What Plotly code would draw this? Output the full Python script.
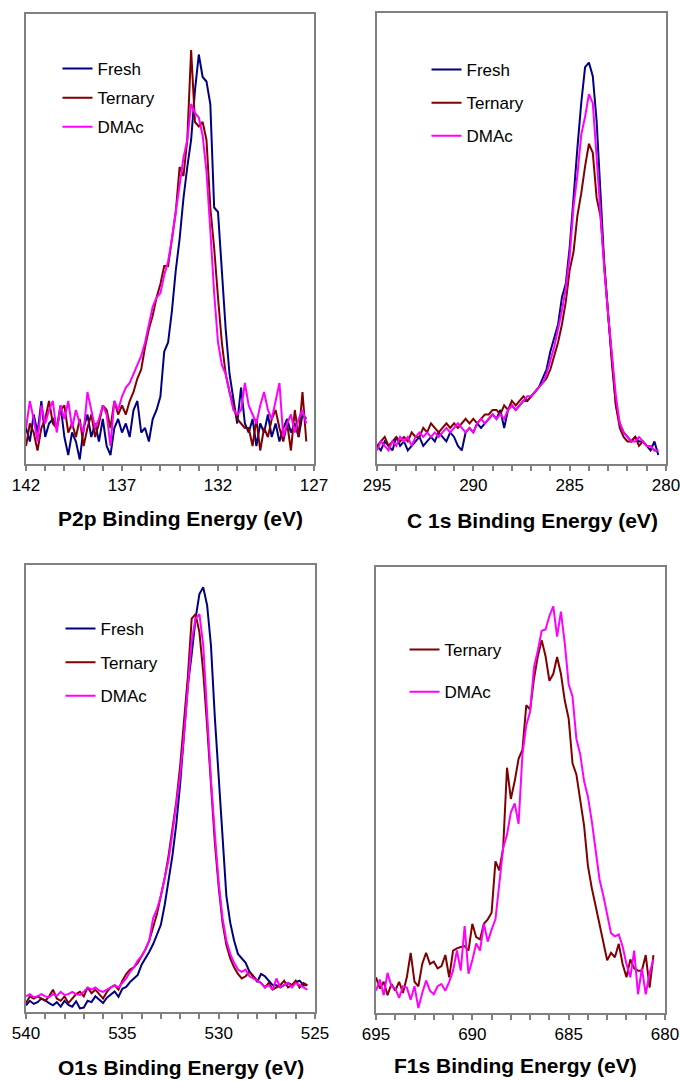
import plotly.graph_objects as go

# ---------------- P2p ----------------
P2P_ENERGY = [142.0, 141.8, 141.6, 141.4, 141.2, 141.0, 140.8, 140.6, 140.4, 140.2,
              140.0, 139.8, 139.6, 139.4, 139.2, 139.0, 138.8, 138.6, 138.4, 138.2,
              138.0, 137.8, 137.6, 137.4, 137.2, 137.0, 136.8, 136.6, 136.4, 136.2,
              136.0, 135.8, 135.6, 135.4, 135.2, 135.0, 134.8, 134.6, 134.4, 134.2,
              134.0, 133.8, 133.6, 133.4, 133.2, 133.0, 132.8, 132.6, 132.4, 132.2,
              132.0, 131.8, 131.6, 131.4, 131.2, 131.0, 130.8, 130.6, 130.4, 130.2,
              130.0, 129.8, 129.6, 129.4, 129.2, 129.0, 128.8, 128.6, 128.4, 128.2,
              128.0, 127.8, 127.6, 127.4]
P2P_FRESH = [8, 5, 11, 7, 14, 6, 9, 10, 8, 13,
             6, 2, 7, 5, 1, 8, 11, 6, 9, 5,
             10, 4, 2, 8, 10, 7, 9, 6, 12, 14,
             7, 8, 5, 10, 12, 15, 25, 27, 34, 43,
             50, 59, 66, 72, 83, 91, 86, 85, 80, 57,
             56, 42, 30, 20, 14, 9, 17, 9, 7, 10,
             4, 9, 7, 11, 6, 9, 5, 8, 10, 7,
             9, 6, 11, 10]
P2P_TERNARY = [4, 9, 7, 3, 8, 10, 14, 9, 8, 12,
               13, 7, 9, 6, 10, 4, 8, 11, 6, 9,
               13, 12, 8, 14, 11, 13, 11, 14, 16, 19,
               21, 26, 30, 33, 37, 40, 44, 44, 50, 56,
               66, 64, 72, 92, 76, 75, 76, 72, 57, 48,
               37, 27, 20, 16, 13, 10, 9, 8, 8, 4,
               10, 3, 8, 6, 10, 12, 8, 5, 9, 3,
               12, 6, 16, 5]
P2P_DMAC = [8, 14, 10, 5, 13, 9, 12, 14, 7, 13,
            10, 14, 8, 12, 9, 7, 16, 12, 8, 10,
            13, 11, 4, 14, 12, 15, 17, 18, 20, 22,
            24, 27, 31, 35, 37, 38, 42, 45, 50, 56,
            61, 68, 72, 80, 78, 77, 73, 65, 52, 38,
            27, 22, 20, 16, 12, 11, 12, 18, 13, 11,
            9, 13, 16, 12, 10, 14, 18, 6, 9, 11,
            7, 10, 12, 9]

# ---------------- C 1s ----------------
C1S_ENERGY = [295.0, 294.8, 294.6, 294.4, 294.2, 294.0, 293.8, 293.6, 293.4, 293.2,
              293.0, 292.8, 292.6, 292.4, 292.2, 292.0, 291.8, 291.6, 291.4, 291.2,
              291.0, 290.8, 290.6, 290.4, 290.2, 290.0, 289.8, 289.6, 289.4, 289.2,
              289.0, 288.8, 288.6, 288.4, 288.2, 288.0, 287.8, 287.6, 287.4, 287.2,
              287.0, 286.8, 286.6, 286.4, 286.2, 286.0, 285.8, 285.6, 285.4, 285.2,
              285.0, 284.8, 284.6, 284.4, 284.2, 284.0, 283.8, 283.6, 283.4, 283.2,
              283.0, 282.8, 282.6, 282.4, 282.2, 282.0, 281.8, 281.6, 281.4, 281.2,
              281.0, 280.8, 280.6, 280.4]
C1S_FRESH = [4, 3, 5, 4, 3, 6, 4, 5, 3, 4,
             5, 6, 4, 5, 6, 5, 7, 6, 5, 7,
             6, 4, 3, 7, 8, 7, 9, 8, 9, 10,
             11, 10, 12, 8, 12, 13, 12, 13, 14, 14,
             15, 16, 17, 19, 21, 25, 28, 31, 37, 40,
             48, 60, 70, 80, 88, 89, 86, 76, 60, 44,
             33, 22, 13, 9, 7, 6, 5, 6, 5, 5,
             4, 3, 5, 2]
C1S_TERNARY = [4, 5, 6, 4, 5, 6, 5, 6, 5, 7,
               6, 6, 8, 7, 9, 8, 7, 8, 9, 8,
               9, 8, 9, 10, 9, 10, 9, 10, 11, 11,
               12, 12, 11, 13, 12, 14, 13, 14, 15, 14,
               15, 16, 17, 18, 19, 21, 24, 27, 31, 36,
               43, 47, 55, 60, 66, 71, 69, 59, 55, 43,
               33, 22, 13, 8, 6, 5, 5, 6, 4, 5,
               4, 4, 3, 3]
C1S_DMAC = [3, 5, 4, 3, 5, 4, 6, 5, 6, 4,
            6, 7, 6, 7, 6, 7, 6, 7, 8, 7,
            8, 9, 8, 7, 8, 7, 9, 10, 9, 10,
            11, 10, 11, 10, 12, 13, 12, 13, 14, 15,
            15, 16, 17, 18, 20, 23, 26, 30, 34, 39,
            46, 57, 64, 73, 77, 82, 80, 68, 55, 43,
            33, 24, 15, 9, 7, 6, 5, 5, 6, 5,
            4, 4, 3, 3]

# ---------------- O1s ----------------
O1S_ENERGY = [540.0, 539.8, 539.6, 539.4, 539.2, 539.0, 538.8, 538.6, 538.4, 538.2,
              538.0, 537.8, 537.6, 537.4, 537.2, 537.0, 536.8, 536.6, 536.4, 536.2,
              536.0, 535.8, 535.6, 535.4, 535.2, 535.0, 534.8, 534.6, 534.4, 534.2,
              534.0, 533.8, 533.6, 533.4, 533.2, 533.0, 532.8, 532.6, 532.4, 532.2,
              532.0, 531.8, 531.6, 531.4, 531.2, 531.0, 530.8, 530.6, 530.4, 530.2,
              530.0, 529.8, 529.6, 529.4, 529.2, 529.0, 528.8, 528.6, 528.4, 528.2,
              528.0, 527.8, 527.6, 527.4, 527.2, 527.0, 526.8, 526.6, 526.4, 526.2,
              526.0, 525.8, 525.6, 525.4]
O1S_FRESH = [1.5, 2.5, 1.8, 2.2, 3.0, 2.6, 2.0, 1.5, 2.2, 1.2,
             2.5, 1.6, 1.2, 2.4, 0.8, 1.0, 2.5, 2.2, 3.5, 2.8,
             2.0, 3.2, 4.0, 4.6, 3.4, 5.2, 5.6, 6.7, 7.5, 8.3,
             10.6, 12.0, 13.5, 15.2, 17.5, 19.5, 24, 29, 35, 42,
             51, 62, 73, 80, 88, 93.5, 95, 91, 82, 66,
             52, 38, 26, 20, 16, 13, 12, 11, 9, 8,
             6.7, 8.5, 8, 7, 6, 6, 5.5, 6, 6.5, 6,
             6.7, 7, 6, 6]
O1S_TERNARY = [2, 3.5, 3, 3.5, 3, 2.5, 3.5, 5, 3, 2.5,
               3.5, 2, 3, 4, 4.5, 3.5, 5.5, 4.2, 5, 4,
               3, 4.5, 5.5, 6, 5, 7, 8.5, 9.5, 10, 11,
               12.5, 14, 16, 19, 22, 26, 30, 35, 41, 47,
               55, 65, 75, 88, 89, 85, 76, 64, 51, 38,
               28, 20, 15, 12, 10, 8.5, 7.5, 8, 9, 8,
               7, 6.5, 5.5, 6.5, 5, 5.5, 6, 7, 5.5, 6,
               7, 5.5, 6.5, 6]
O1S_DMAC = [3.5, 4, 3.3, 3.5, 4, 3.5, 3.3, 4, 3.6, 4.5,
            3.8, 4, 4.5, 4, 3.8, 4.5, 5.5, 5, 5.5, 4.8,
            4.5, 5, 5.5, 6, 5.5, 6.5, 7.5, 9, 10, 11.5,
            12.5, 14, 16, 21, 23, 26, 30, 34, 40, 46,
            53, 62, 73, 83, 88, 89, 82, 67, 52, 40,
            29, 21, 16, 13, 11, 9.5, 9, 9.5, 8, 7.5,
            7, 6.5, 5.5, 6, 5, 7.5, 5.5, 6, 6.5, 5.5,
            6.5, 6, 5.5, 5]

# ---------------- F1s ----------------
F1S_ENERGY = [695.0, 694.8, 694.6, 694.4, 694.2, 694.0, 693.8, 693.6, 693.4, 693.2,
              693.0, 692.8, 692.6, 692.4, 692.2, 692.0, 691.8, 691.6, 691.4, 691.2,
              691.0, 690.8, 690.6, 690.4, 690.2, 690.0, 689.8, 689.6, 689.4, 689.2,
              689.0, 688.8, 688.6, 688.4, 688.2, 688.0, 687.8, 687.6, 687.4, 687.2,
              687.0, 686.8, 686.6, 686.4, 686.2, 686.0, 685.8, 685.6, 685.4, 685.2,
              685.0, 684.8, 684.6, 684.4, 684.2, 684.0, 683.8, 683.6, 683.4, 683.2,
              683.0, 682.8, 682.6, 682.4, 682.2, 682.0, 681.8, 681.6, 681.4, 681.2,
              681.0, 680.8, 680.6]
F1S_TERNARY = [8, 5.5, 7, 4, 6.5, 5, 7, 4.5, 8, 13.5,
               7, 6, 11, 13.5, 11, 11.5, 10, 10.5, 13, 8,
               14, 14.5, 14.8, 15, 14, 20, 17, 16.5, 20, 21,
               22.5, 34, 32, 37, 55, 48, 52, 57, 59, 69,
               68, 75, 80, 83.6, 80, 74.5, 76, 79.8, 76, 70,
               66, 56, 53.5, 47.7, 42, 33, 28, 24, 20, 16.4,
               11.8, 13.5, 12.5, 15.5, 11, 8, 12, 10, 9.5, 9.5,
               13, 5.7, 13]
F1S_DMAC = [5, 7.5, 4, 9, 6, 5.5, 3.4, 6, 5.7, 3,
            6, 1.1, 4.5, 7.3, 5, 4.2, 6, 6.5, 5, 7,
            9.5, 14, 9.5, 19.5, 8.8, 11.8, 15.6, 14, 20, 16,
            18.7, 21, 29, 37, 40, 45, 47, 42.4, 58, 64.5,
            67.6, 77.5, 81.3, 85.7, 86, 89, 91.2, 84.4, 90, 82.8,
            73.7, 71, 61.5, 58, 52, 48.5, 43, 36, 30, 26.3,
            21.8, 17.9, 17.2, 17.6, 14.9, 11, 8, 14, 4.2, 10,
            4.2, 9, 12]

SERIES_NAMES = ["Fresh", "Ternary", "DMAc"]
COLORS = {"Fresh": "#000080", "Ternary": "#800000", "DMAc": "#FF00FF"}

PANELS = [
    dict(energy=P2P_ENERGY, data={"Fresh": P2P_FRESH, "Ternary": P2P_TERNARY, "DMAc": P2P_DMAC},
         title="P2p Binding Energy (eV)", rng=[142, 127], ticks=[142, 137, 132, 127]),
    dict(energy=C1S_ENERGY, data={"Fresh": C1S_FRESH, "Ternary": C1S_TERNARY, "DMAc": C1S_DMAC},
         title="C 1s Binding Energy (eV)", rng=[295, 280], ticks=[295, 290, 285, 280]),
    dict(energy=O1S_ENERGY, data={"Fresh": O1S_FRESH, "Ternary": O1S_TERNARY, "DMAc": O1S_DMAC},
         title="O1s Binding Energy (eV)", rng=[540, 525], ticks=[540, 535, 530, 525]),
    dict(energy=F1S_ENERGY, data={"Ternary": F1S_TERNARY, "DMAc": F1S_DMAC},
         title="F1s Binding Energy (eV)", rng=[695, 680], ticks=[695, 690, 685, 680]),
]

W, H = 680, 1081
# frame boxes in pixels: left, right, top, bottom
BOXES = [(26, 314, 14, 464), (377, 666, 13, 464), (26, 315, 565, 1012), (376, 665, 567, 1013)]
TITLE_POS = [(180, 519), (532, 520), (181, 1067), (515, 1065)]
# legend box left x, top y (px), gap between entries
LEGEND_POS = [(57.5, 51, 4), (426.5, 52, 8), (60.5, 611, 8.5), (404.5, 632, 17)]

FONT = "Arial, Liberation Sans, sans-serif"
AXCOL = "#808080"

fig = go.Figure()
layout = dict(width=W, height=H, margin=dict(l=0, r=0, t=0, b=0, autoexpand=False),
              paper_bgcolor="white", plot_bgcolor="white", showlegend=True,
              font=dict(family=FONT, color="black"))
annotations = []

for i, p in enumerate(PANELS):
    k = i + 1
    xa = "x" if k == 1 else f"x{k}"
    ya = "y" if k == 1 else f"y{k}"
    leg = "legend" if k == 1 else f"legend{k}"
    for name in SERIES_NAMES:
        if name not in p["data"]:
            continue
        fig.add_trace(go.Scatter(
            x=p["energy"], y=p["data"][name], mode="lines", name=name,
            line=dict(color=COLORS[name], width=2),
            xaxis=xa, yaxis=ya, legend=leg, legendgroup=f"{k}{name}"))
    l, r, t, b = BOXES[i]
    xkey = "xaxis" if k == 1 else f"xaxis{k}"
    ykey = "yaxis" if k == 1 else f"yaxis{k}"
    layout[xkey] = dict(domain=[l / W, r / W], range=p["rng"], anchor=ya, automargin=False,
                        tickmode="array", tickvals=p["ticks"],
                        ticktext=[str(v) for v in p["ticks"]],
                        ticklabeloverflow="allow",
                        ticks="outside", ticklen=5, tickwidth=1.5, tickcolor=AXCOL,
                        minor=dict(ticks="outside", ticklen=5, tickwidth=1.5, tickcolor=AXCOL,
                                   dtick=1, tick0=0),
                        showline=True, linecolor=AXCOL, linewidth=2, mirror=True,
                        showgrid=False, zeroline=False,
                        tickfont=dict(family=FONT, size=17, color="black"))
    layout[ykey] = dict(domain=[1 - b / H, 1 - t / H], range=[0, 100], anchor=xa,
                        automargin=False,
                        showticklabels=False, ticks="", showgrid=False, zeroline=False,
                        showline=True, linecolor=AXCOL, linewidth=2, mirror=True)
    # inward half of the crossing major ticks
    okey = f"xaxis{k + 4}"
    layout[okey] = dict(domain=[l / W, r / W], range=p["rng"], anchor=ya, overlaying=xa,
                        automargin=False,
                        tickmode="array", tickvals=p["ticks"], showticklabels=False,
                        ticks="inside", ticklen=5, tickwidth=1.5, tickcolor=AXCOL,
                        showline=False, showgrid=False, zeroline=False)
    tx, ty = TITLE_POS[i]
    annotations.append(dict(text=f"<b>{p['title']}</b>", x=tx / W, y=1 - ty / H,
                            xref="paper", yref="paper", xanchor="center", yanchor="middle",
                            showarrow=False, font=dict(family=FONT, size=21, color="black")))
    lx, ly, gap = LEGEND_POS[i]
    layout[leg] = dict(x=lx / W, y=1 - ly / H, xanchor="left", yanchor="top",
                       xref="paper", yref="paper", bgcolor="rgba(0,0,0,0)", borderwidth=0,
                       tracegroupgap=gap, itemclick=False,
                       font=dict(family=FONT, size=17, color="black"))

layout["annotations"] = annotations
fig.update_layout(**layout)
fig.write_html("out.html")
